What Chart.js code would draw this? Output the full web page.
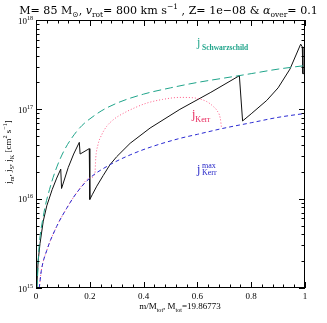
<!DOCTYPE html>
<html>
<head>
<meta charset="utf-8">
<script src="https://cdn.jsdelivr.net/npm/chart.js@4.4.0/dist/chart.umd.min.js"></script>
<style>
  html, body { margin: 0; padding: 0; background: #fff; }
  canvas { display: block; }
</style>
</head>
<body>
<canvas id="chartJ" width="327" height="323"></canvas>
<script>
// j_Schwarzschild (green, long dash)
var schwX = [0.004, 0.01, 0.027, 0.05, 0.09, 0.15, 0.226, 0.3, 0.4, 0.5, 0.6, 0.7, 0.8, 0.9, 1.0];
var schwY = [1.0e15, 2.5e15, 6.3e15, 1.26e16, 2.8e16, 5.6e16, 8.9e16, 1.17e17, 1.48e17, 1.74e17, 2.0e17, 2.24e17, 2.51e17, 2.82e17, 3.09e17];

// j_Kerr max (blue, short dash)
var kmaxX = [0.012, 0.02, 0.04, 0.077, 0.114, 0.15, 0.2, 0.275, 0.35, 0.424, 0.535, 0.6, 0.695, 0.8, 0.9, 1.0];
var kmaxY = [1.0e15, 1.58e15, 2.63e15, 4.9e15, 7.8e15, 1.15e16, 1.7e16, 2.4e16, 3.09e16, 3.76e16, 4.73e16, 5.25e16, 6.12e16, 7.08e16, 8.13e16, 9.0e16];

// j_Kerr (pink, dotted)
var kerrX = [0.012, 0.02, 0.04, 0.077, 0.114, 0.15, 0.2, 0.219, 0.222, 0.23, 0.245, 0.263, 0.29, 0.324, 0.37, 0.41, 0.47, 0.535, 0.58, 0.635, 0.66, 0.672, 0.685, 0.69];
var kerrY = [1.0e15, 1.58e15, 2.63e15, 4.9e15, 7.8e15, 1.15e16, 1.7e16, 1.9e16, 2.82e16, 3.98e16, 5.25e16, 6.46e16, 7.76e16, 9.0e16, 1.05e17, 1.17e17, 1.29e17, 1.36e17, 1.35e17, 1.22e17, 1.07e17, 9.77e16, 7.94e16, 6.1e16];

// j of the model (black, solid)
var jmX = [0.0026, 0.008, 0.015, 0.027, 0.04, 0.06, 0.077, 0.092, 0.095, 0.12, 0.14, 0.161, 0.164, 0.198, 0.2, 0.21, 0.226, 0.25, 0.275, 0.3, 0.35, 0.424, 0.535, 0.65, 0.756, 0.768, 0.8, 0.858, 0.9, 0.944, 0.984, 0.99, 0.992, 1.0];
var jmY = [1.0e15, 2.0e15, 3.16e15, 5.6e15, 8.3e15, 1.26e16, 1.7e16, 2.14e16, 1.3e16, 2.24e16, 3.16e16, 4.27e16, 3.16e16, 3.63e16, 9.8e15, 1.12e16, 1.38e16, 1.82e16, 2.4e16, 2.95e16, 4.17e16, 6.17e16, 1.0e17, 1.55e17, 2.38e17, 7.41e16, 8.91e16, 1.26e17, 1.74e17, 2.82e17, 5.37e17, 5.0e17, 2.51e17, 2.51e17];

var xTicks = [0, 0.2, 0.4, 0.6, 0.8, 1];
var xTickLabels = ['0', '0.2', '0.4', '0.6', '0.8', '1'];
var yTicks = [1e15, 1e16, 1e17, 1e18];
var yTickExp = ['15', '16', '17', '18'];

var SERIF = '"Liberation Serif", "DejaVu Serif", serif';
var WIDE = '"DejaVu Serif", "Liberation Serif", serif';

function pts(xs, ys) {
  return xs.map(function (x, i) { return { x: x, y: ys[i] }; });
}

// text with sub / superscripts, parts = [[text, kind]], kind '', 'i', 'sub', 'sup'
function fontFor(k, size, fam) {
  var s = (k == 'sub' || k == 'sup') ? size * 0.68 : size;
  return (k == 'i' ? 'italic ' : '') + s + 'px ' + fam;
}
function richWidth(ctx, parts, size, fam) {
  var w = 0;
  parts.forEach(function (p) { ctx.font = fontFor(p[1], size, fam); w += ctx.measureText(p[0]).width; });
  return w;
}
function rich(ctx, parts, x, y, size, align, fam) {
  fam = fam || SERIF;
  var w = richWidth(ctx, parts, size, fam);
  var cx = align == 'center' ? x - w / 2 : (align == 'right' ? x - w : x);
  parts.forEach(function (p) {
    ctx.font = fontFor(p[1], size, fam);
    var dy = p[1] == 'sub' ? size * 0.3 : (p[1] == 'sup' ? -size * 0.42 : 0);
    ctx.fillText(p[0], cx, y + dy);
    cx += ctx.measureText(p[0]).width;
  });
}

var titleParts = [['M= 85 M', ''], ['\u2299', 'sub'], [', ', ''], ['v', 'i'], ['rot', 'sub'],
  ['= 800 km s', ''], ['\u22121', 'sup'], [' , Z= 1e\u221208 & ', ''], ['\u03b1', 'i'],
  ['over', 'sub'], ['= 0.1', '']];

var frame = {
  id: 'frame',
  afterDraw: function (chart) {
    var ctx = chart.ctx, a = chart.chartArea;
    var sx = chart.scales.x, sy = chart.scales.y;
    ctx.save();
    ctx.strokeStyle = '#000';
    ctx.lineWidth = 1;
    ctx.strokeRect(a.left + 0.5, a.top + 0.5, a.right - a.left - 1, a.bottom - a.top - 1);

    ctx.beginPath();
    // x ticks, top and bottom
    for (var i = 0; i <= 25; i++) {
      var v = i * 0.04;
      var len = (i % 5 == 0) ? 6 : 3.5;
      var px = Math.round(sx.getPixelForValue(v)) + 0.5;
      ctx.moveTo(px, a.bottom); ctx.lineTo(px, a.bottom - len);
      ctx.moveTo(px, a.top); ctx.lineTo(px, a.top + len);
    }
    // y ticks, left and right
    for (var n = 15; n <= 17; n++) {
      for (var k = 1; k <= 10; k++) {
        var val = k * Math.pow(10, n);
        var l2 = (k == 1 || k == 10) ? 6 : 3.5;
        var py = Math.round(sy.getPixelForValue(val)) + 0.5;
        ctx.moveTo(a.left, py); ctx.lineTo(a.left + l2, py);
        ctx.moveTo(a.right, py); ctx.lineTo(a.right - l2, py);
      }
    }
    ctx.stroke();

    ctx.fillStyle = '#000';
    ctx.textBaseline = 'alphabetic';
    xTicks.forEach(function (v, i) {
      rich(ctx, [[xTickLabels[i], '']], sx.getPixelForValue(v), 299, 9, 'center');
    });
    yTicks.forEach(function (v, i) {
      rich(ctx, [['10', ''], [yTickExp[i], 'sup']], 33, sy.getPixelForValue(v) + 3.5, 9, 'right');
    });

    // title, stretched to the width it has in the original
    var tSize = 10 * 299 / richWidth(ctx, titleParts, 10, WIDE);
    rich(ctx, titleParts, 168.5, 13.5, tSize, 'center', WIDE);

    // x axis title
    rich(ctx, [['m/M', ''], ['tot', 'sub'], [', M', ''], ['tot', 'sub'], ['=19.86773', '']], 180, 309, 9, 'center');

    // y axis title
    ctx.save();
    ctx.translate(8, 152);
    ctx.rotate(-Math.PI / 2);
    rich(ctx, [['j', ''], ['m', 'sub'], [', j', ''], ['S', 'sub'], [', j', ''], ['K', 'sub'],
      [' [cm', ''], ['2', 'sup'], [' s', ''], ['\u22121', 'sup'], [']', '']], 0, 3, 9, 'center');
    ctx.restore();

    // curve labels
    ctx.fillStyle = '#1fa48a';
    rich(ctx, [['j', '']], 197, 46, 12, 'left');
    ctx.font = 'bold 7.5px ' + SERIF;
    ctx.fillText('Schwarzschild', 202, 49.5);
    ctx.fillStyle = '#e8245a';
    rich(ctx, [['j', ''], ['Kerr', 'sub']], 192, 118, 12, 'left');
    ctx.fillStyle = '#2626c8';
    rich(ctx, [['j', '']], 197, 173, 12, 'left');
    ctx.font = '8px ' + SERIF;
    ctx.fillText('max', 202, 168);
    ctx.fillText('Kerr', 202, 175);
    ctx.restore();
  }
};

var chart = new Chart(document.getElementById('chartJ'), {
  type: 'scatter',
  data: {
    datasets: [
      {
        label: 'j Kerr max',
        data: pts(kmaxX, kmaxY),
        showLine: true, pointRadius: 0, borderWidth: 1,
        borderColor: '#2a2ad2', borderDash: [4, 3],
        cubicInterpolationMode: 'monotone'
      },
      {
        label: 'j Kerr',
        data: pts(kerrX, kerrY),
        showLine: true, pointRadius: 0, borderWidth: 1,
        borderColor: '#ff5a86', borderDash: [1, 2],
        cubicInterpolationMode: 'monotone'
      },
      {
        label: 'j Schwarzschild',
        data: pts(schwX, schwY),
        showLine: true, pointRadius: 0, borderWidth: 1,
        borderColor: '#1fa48a', borderDash: [8, 4],
        cubicInterpolationMode: 'monotone'
      },
      {
        label: 'j m',
        data: pts(jmX, jmY),
        showLine: true, pointRadius: 0, borderWidth: 1,
        borderColor: '#111', tension: 0
      }
    ]
  },
  options: {
    responsive: false,
    devicePixelRatio: 1,
    animation: false,
    layout: { padding: { left: 36, right: 22, top: 20, bottom: 35 } },
    scales: {
      x: { type: 'linear', min: 0, max: 1, display: false },
      y: { type: 'logarithmic', min: 1e15, max: 1e18, display: false }
    },
    plugins: { legend: { display: false }, tooltip: { enabled: false } }
  },
  plugins: [frame]
});
</script>
</body>
</html>
